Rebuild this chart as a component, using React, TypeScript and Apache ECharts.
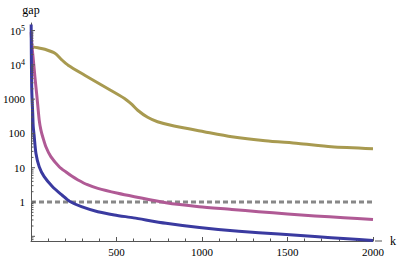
import React, { useEffect, useRef } from "react";
import * as echarts from "echarts";

// ---- data ----
const blueK = [1, 2, 4, 7, 10, 13, 18, 29, 48, 77, 126, 184, 225, 295, 391, 488, 600, 790, 985, 1215, 1450, 1660, 1850, 2000];
const blueGap = [1.5e5, 2e4, 2300, 800, 400, 160, 90, 26, 10.7, 5.5, 2.8, 1.55, 1.05, 0.73, 0.52, 0.42, 0.345, 0.24, 0.18, 0.14, 0.116, 0.098, 0.085, 0.076];

const pinkK = [1, 6, 12, 23, 35, 48, 58, 70, 87, 116, 165, 203, 240, 275, 330, 391, 508, 605, 789, 983, 1174, 1331, 1500, 1661, 1830, 2000];
const pinkGap = [9e4, 33000, 17000, 4400, 1150, 245, 125, 75, 41, 21, 10.7, 7.6, 5.6, 4.4, 3.2, 2.5, 1.8, 1.43, 0.95, 0.73, 0.61, 0.52, 0.45, 0.39, 0.35, 0.31];

const oliveK = [1, 40, 81, 140, 180, 217, 314, 430, 547, 590, 624, 682, 740, 837, 1012, 1174, 1370, 1564, 1756, 2000];
const oliveGap = [34000, 31500, 28400, 21700, 14000, 9800, 5000, 2300, 1050, 700, 475, 295, 219, 164, 112, 80, 61, 51, 41, 36];

const thresholdK = [0, 2000];
const thresholdGap = [1, 1];

const xTicks = [0, 500, 1000, 1500, 2000];
const yMajorTicks = [0.1, 1, 10, 100, 1000, 1e4, 1e5];
const yMinorMultipliers = [2, 3, 4, 5, 6, 7, 8, 9];

const Y_MIN = 0.073;
const Y_MAX = 1.66e5;

const zip = (ks: number[], vs: number[]) => ks.map((k, i) => [k, vs[i]]);

export default function App() {
  const ref = useRef<HTMLDivElement>(null);

  useEffect(() => {
    if (!ref.current) return;
    const chart = echarts.init(ref.current, undefined, { renderer: "svg" });

    const yTickData: number[][] = [];
    yMajorTicks.forEach((v) => yTickData.push([0, v, 4]));
    yMajorTicks.forEach((v) => {
      yMinorMultipliers.forEach((m) => {
        const t = v * m;
        if (t > Y_MIN && t < Y_MAX) yTickData.push([0, t, 2.5]);
      });
    });
    yMinorMultipliers.forEach((m) => {
      const t = 0.01 * m;
      if (t > Y_MIN) yTickData.push([0, t, 2.5]);
    });

    const serif = "'Liberation Serif', 'DejaVu Serif', serif";
    const axisColor = "#555";

    const curve = (data: number[][], color: string, z: number) => ({
      type: "line",
      data,
      showSymbol: false,
      smooth: 0.25,
      lineStyle: { color, width: 3, join: "round" },
      z,
    });

    chart.setOption({
      animation: false,
      grid: { left: 31, right: 24, top: 23, bottom: 18, containLabel: false },
      xAxis: {
        type: "value",
        min: xTicks[0],
        max: xTicks[xTicks.length - 1],
        interval: 500,
        name: "k",
        nameLocation: "end",
        nameGap: 17,
        nameTextStyle: { fontFamily: serif, fontSize: 12, color: "#000" },
        axisLine: { show: true, onZero: false, lineStyle: { color: axisColor, width: 1 } },
        axisTick: { show: true, inside: true, length: 4, lineStyle: { color: axisColor } },
        minorTick: { show: true, splitNumber: 5, length: 2.5, lineStyle: { color: axisColor } },
        splitLine: { show: false },
        axisLabel: {
          margin: 5,
          fontFamily: serif,
          fontSize: 11,
          color: "#000",
          formatter: (v: number) => (v === 0 ? "" : String(v)),
        },
      },
      yAxis: {
        type: "log",
        logBase: 10,
        min: Y_MIN,
        max: Y_MAX,
        name: "gap",
        nameLocation: "end",
        nameGap: 7,
        nameTextStyle: { fontFamily: serif, fontSize: 12, color: "#000", align: "center" },
        axisLine: { show: true, lineStyle: { color: axisColor, width: 1 } },
        axisTick: { show: false },
        splitLine: { show: false },
        axisLabel: {
          margin: 6,
          fontFamily: serif,
          fontSize: 11,
          color: "#000",
          showMinLabel: false,
          showMaxLabel: false,
          formatter: (v: number) => {
            const e = Math.round(Math.log10(v));
            if (Math.abs(Math.log10(v) - e) > 1e-6) return "";
            if (e < 0) return "";
            if (e >= 4) return "10{sup|" + e + "}";
            return String(Math.round(Math.pow(10, e)));
          },
          rich: {
            sup: { fontFamily: serif, fontSize: 8, verticalAlign: "top", lineHeight: 12, color: "#000" },
          },
        },
      },
      graphic: [
        {
          type: "line",
          shape: { x1: 375, y1: 241, x2: 382, y2: 241 },
          style: { stroke: axisColor, lineWidth: 1 },
          silent: true,
        },
      ],
      series: [
        curve(zip(oliveK, oliveGap), "#a89a50", 3),
        {
          type: "line",
          data: zip(thresholdK, thresholdGap),
          showSymbol: false,
          lineStyle: { color: "#888888", width: 2.8, type: [5, 3] },
          z: 2,
        },
        curve(zip(pinkK, pinkGap), "#b05a95", 4),
        curve(zip(blueK, blueGap), "#3a3aa0", 5),
        {
          type: "custom",
          silent: true,
          clip: false,
          data: yTickData,
          renderItem: (params: any, api: any) => {
            const p = api.coord([api.value(0), api.value(1)]);
            const len = api.value(2);
            return {
              type: "line",
              shape: { x1: p[0], y1: p[1], x2: p[0] + len, y2: p[1] },
              style: { stroke: axisColor, lineWidth: 1 },
            };
          },
          z: 6,
        },
      ],
    });

    return () => chart.dispose();
  }, []);

  return (
    <div
      ref={ref}
      style={{ position: "fixed", left: 0, top: 0, width: 399, height: 259, background: "#fff" }}
    />
  );
}
